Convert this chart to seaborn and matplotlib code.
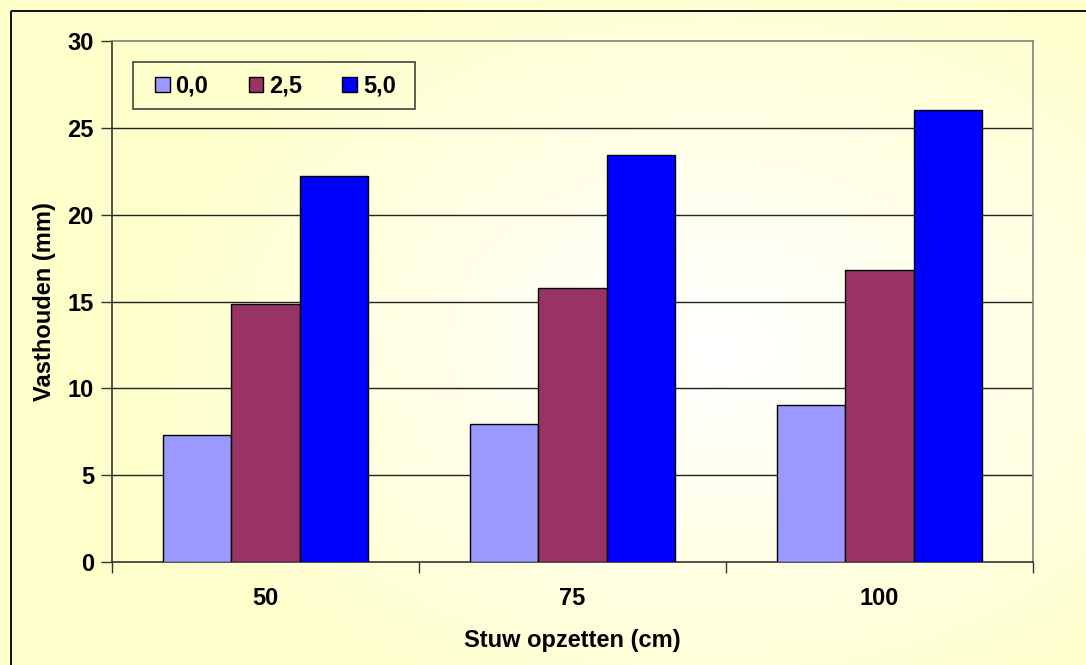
import numpy as np
import pandas as pd
import matplotlib
matplotlib.use("Agg")
import matplotlib.pyplot as plt
from matplotlib.patches import Rectangle
import seaborn as sns

# Data
stuw = ["50", "75", "100"]
series = ["0,0", "2,5", "5,0"]
vals_00 = [7.3, 7.95, 9.05]
vals_25 = [14.85, 15.75, 16.8]
vals_50 = [22.2, 23.45, 26.0]
colors = ["#9999FF", "#993366", "#0000FF"]
yticks = [0, 5, 10, 15, 20, 25, 30]

df = pd.DataFrame({
    "stuw": stuw * 3,
    "serie": [s for s in series for _ in stuw],
    "waarde": vals_00 + vals_25 + vals_50,
})

sns.set_theme(style="white")
plt.rcParams["font.family"] = ["Liberation Sans", "DejaVu Sans"]
plt.rcParams["font.weight"] = "bold"
plt.rcParams["text.color"] = "black"
plt.rcParams["axes.labelcolor"] = "black"
plt.rcParams["xtick.color"] = "black"
plt.rcParams["ytick.color"] = "black"

FS = 17
W, H = 1086, 665
fig = plt.figure(figsize=(W / 100, H / 100), dpi=100)

# Pale yellow radial background
bg = fig.add_axes([0, 0, 1, 1], zorder=-10)
yy, xx = np.mgrid[0:H, 0:W]
cx, cy = 0.66 * W, 0.52 * H
r = np.sqrt(((xx - cx) / (0.55 * W)) ** 2 + ((yy - cy) / (0.62 * H)) ** 2)
t = np.clip(r, 0, 1) ** 1.1
c0 = np.array([1.0, 1.0, 1.0])
c1 = np.array([1.0, 1.0, 0xCC / 255])
img = c0[None, None, :] * (1 - t[..., None]) + c1[None, None, :] * t[..., None]
bg.imshow(img, extent=[0, W, H, 0], aspect="auto")
bg.set_xlim(0, W)
bg.set_ylim(H, 0)
bg.axis("off")
# Outer chart frame (continues past the right and bottom edges)
bg.add_patch(Rectangle((10.5, 11), W + 20, H + 20, fill=False,
                       edgecolor="black", lw=1.3, clip_on=False))
# Legend box
bg.add_patch(Rectangle((133, 62), 415 - 133, 109 - 62, fill=False,
                       edgecolor="#333333", lw=1.1))

ax = fig.add_axes([112 / W, (H - 562) / H, (1033 - 112) / W, (562 - 41) / H])
ax.set_facecolor("none")

sns.barplot(data=df, x="stuw", y="waarde", hue="serie", order=stuw,
            hue_order=series, palette=colors, width=0.667, gap=0,
            edgecolor="black", linewidth=1.0, saturation=1, ax=ax, zorder=3)

ax.set_ylim(0, 30)
ax.set_xlim(-0.5, 2.5)
ax.set_yticks(yticks)
ax.set_yticklabels([str(v) for v in yticks], fontsize=FS, fontweight="bold")
for y in yticks[1:-1]:
    ax.axhline(y, color="#222222", lw=1.0, zorder=1)

ax.set_xticks(range(len(stuw)))
ax.set_xticklabels(stuw, fontsize=FS, fontweight="bold")
ax.tick_params(axis="x", which="major", length=0, pad=18)
ax.set_xticks([-0.5, 0.5, 1.5, 2.5], minor=True)
ax.tick_params(axis="x", which="minor", length=8, width=1, color="#333333",
               direction="out", bottom=True)
ax.tick_params(axis="y", length=8, width=1, color="#333333", direction="out",
               left=True, pad=5)

for side in ["left", "bottom"]:
    ax.spines[side].set_color("#333333")
    ax.spines[side].set_linewidth(1.2)
for side in ["top", "right"]:
    ax.spines[side].set_color("#808080")
    ax.spines[side].set_linewidth(1.2)

ax.set_xlabel("Stuw opzetten (cm)", fontsize=FS, fontweight="bold", labelpad=14)
ax.set_ylabel("Vasthouden (mm)", fontsize=FS, fontweight="bold", labelpad=8)

leg = ax.legend(loc="center left", bbox_to_anchor=(155 / W, 1 - 86 / H),
                bbox_transform=fig.transFigure,
                ncol=3, frameon=False, borderpad=0, borderaxespad=0,
                handlelength=0.62, handleheight=0.62, handletextpad=0.25,
                columnspacing=1.7, prop={"weight": "bold", "size": FS})
for h in leg.legend_handles:
    h.set_edgecolor("black")
    h.set_linewidth(1.0)

fig.savefig("out.png", dpi=100)
